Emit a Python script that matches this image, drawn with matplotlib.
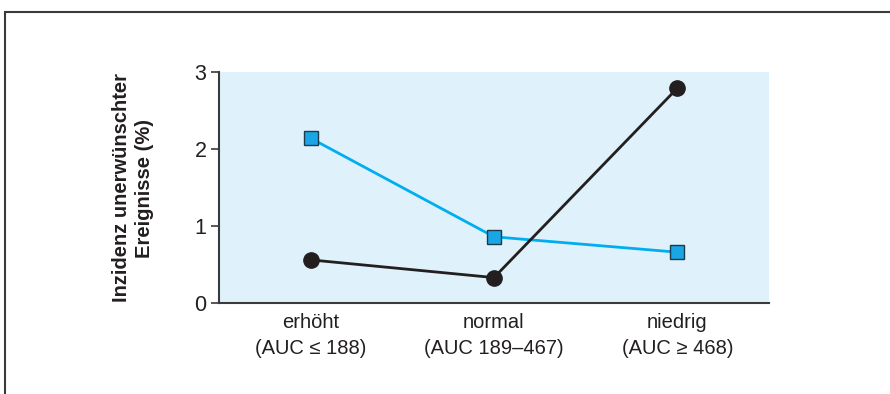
import matplotlib.pyplot as plt
from matplotlib.patches import Rectangle
from matplotlib import font_manager

# data
categories = ['erhöht\n(AUC ≤ 188)', 'normal\n(AUC 189–467)', 'niedrig\n(AUC ≥ 468)']
blue_values = [2.14, 0.86, 0.66]
black_values = [0.56, 0.33, 2.79]
yticks = [0, 1, 2, 3]

names = {f.name for f in font_manager.fontManager.ttflist}
fam = ['Liberation Sans Narrow', 'DejaVu Sans'] if 'Liberation Sans Narrow' in names else ['Liberation Sans', 'DejaVu Sans']
plt.rcParams['font.family'] = fam

fig = plt.figure(figsize=(8.9, 3.94), dpi=100)

# outer frame of the figure box
frame = Rectangle((5/890, -0.1), 1.2, 1 - 12/394 + 0.1, transform=fig.transFigure,
                  fill=False, edgecolor='#3a3a3a', lw=1.5)
fig.patches.append(frame)

ax = fig.add_axes([219/890, 1 - 303/394, 550/890, 231/394])
ax.set_facecolor('#dff1fb')

x = range(len(categories))
ax.plot(x, blue_values, color='#00aeef', lw=2, marker='s', ms=10,
        markerfacecolor='#1aa6e5', markeredgecolor='#1d3a4a', markeredgewidth=1, zorder=3)
ax.plot(x, black_values, color='#231f20', lw=2, marker='o', ms=11,
        markerfacecolor='#231f20', markeredgecolor='#231f20', zorder=4)

ax.set_xlim(-0.5, 2.5)
ax.set_ylim(0, 3)
ax.set_yticks(yticks)
ax.set_xticks(list(x))
ax.set_xticklabels(categories, fontsize=14.5, color='#231f20', linespacing=1.5)
ax.tick_params(axis='x', length=0, pad=7)
ax.tick_params(axis='y', length=6, width=1.2, color='#3a3a3a', labelsize=15.5, labelcolor='#231f20', pad=3)

for s in ['top', 'right']:
    ax.spines[s].set_visible(False)
for s in ['left', 'bottom']:
    ax.spines[s].set_color('#3a3a3a')
    ax.spines[s].set_linewidth(1.5)

fig.text(133/890, 1 - 188/394, 'Inzidenz unerwünschter\nEreignisse (%)', rotation=90,
         ha='center', va='center', multialignment='center', fontsize=14.5,
         fontweight='bold', color='#231f20', linespacing=1.3)

fig.savefig('out.png', dpi=100)
